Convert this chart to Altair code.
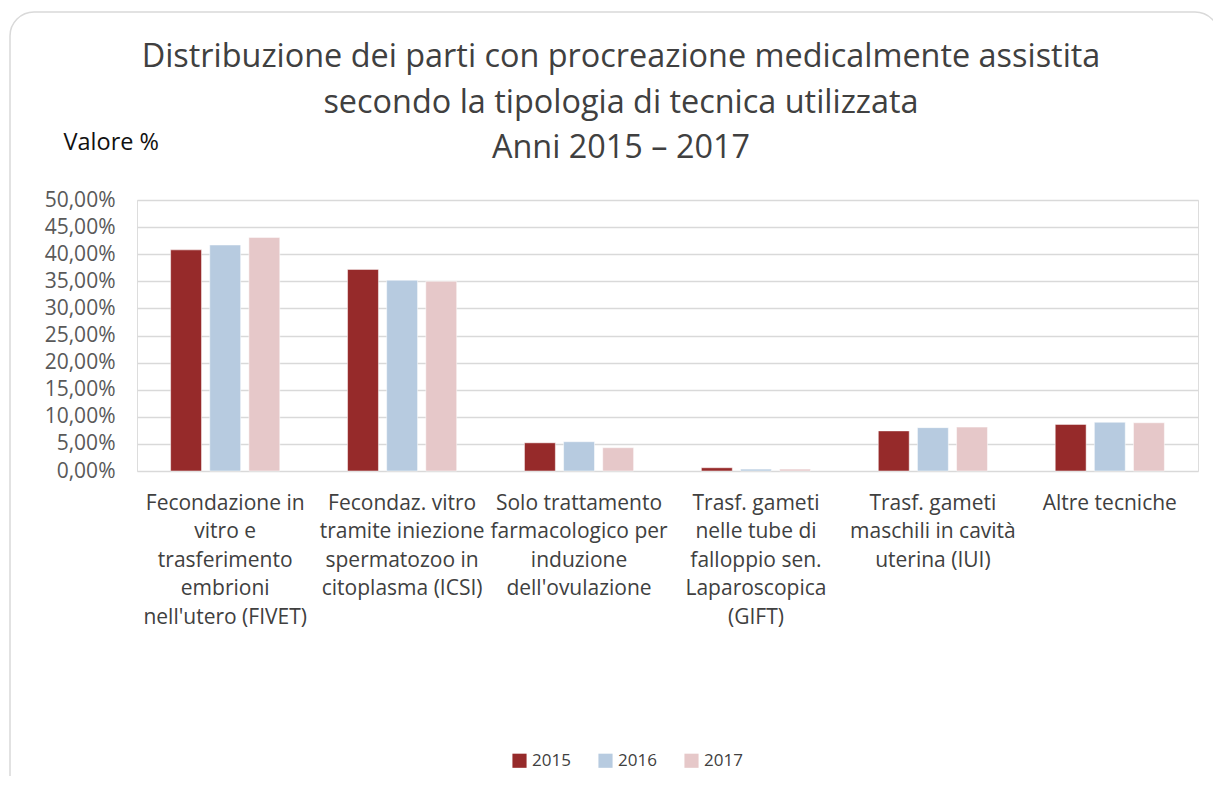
import altair as alt
import pandas as pd

categories = [
    "Fecondazione in\nvitro e\ntrasferimento\nembrioni\nnell'utero (FIVET)",
    "Fecondaz. vitro\ntramite iniezione\nspermatozoo in\ncitoplasma (ICSI)",
    "Solo trattamento\nfarmacologico per\ninduzione\ndell'ovulazione",
    "Trasf. gameti\nnelle tube di\nfalloppio sen.\nLaparoscopica\n(GIFT)",
    "Trasf. gameti\nmaschili in cavità\nuterina (IUI)",
    "Altre tecniche",
]
years = ["2015", "2016", "2017"]
v2015 = [0.408, 0.372, 0.052, 0.006, 0.074, 0.086]
v2016 = [0.417, 0.352, 0.054, 0.0035, 0.080, 0.090]
v2017 = [0.431, 0.350, 0.043, 0.0035, 0.081, 0.089]
colors = ["#962a2a", "#b7cbe0", "#e6c8c9"]
title_text = ("Distribuzione dei parti con procreazione medicalmente assistita\n"
              "secondo la tipologia di tecnica utilizzata\n"
              "Anni 2015 – 2017")

rows = []
for yr, vals in zip(years, [v2015, v2016, v2017]):
    for c, v in zip(categories, vals):
        rows.append({"cat": c, "anno": yr, "val": v})
df = pd.DataFrame(rows)

FONT = "Open Sans"

bars = alt.Chart(df).mark_bar(stroke="white", strokeWidth=0.5).encode(
    x=alt.X("cat:N", sort=categories, title=None,
            scale=alt.Scale(paddingInner=0.383, paddingOuter=0.19),
            axis=alt.Axis(labelAngle=0, labelExpr="split(datum.label, '\\n')",
                          labelFontSize=21, labelColor="#404040", labelFont=FONT,
                          labelLineHeight=28.5, labelPadding=21, ticks=False,
                          domain=False, labelLimit=300)),
    xOffset=alt.XOffset("anno:N", sort=years,
                        scale=alt.Scale(paddingInner=0.21, paddingOuter=0)),
    y=alt.Y("val:Q", scale=alt.Scale(domain=[0, 0.5], nice=False),
            axis=alt.Axis(values=[i * 0.05 for i in range(11)],
                          labelExpr="replace(format(datum.value*100, '.2f'), '.', ',') + '%'",
                          labelFontSize=21, labelColor="#595959", labelFont=FONT,
                          labelPadding=22, ticks=False, domain=False,
                          grid=True, gridColor="#d9d9d9", gridWidth=1.5,
                          title="Valore %", titleAngle=0, titleX=-74, titleY=-58,
                          titleAlign="left", titleBaseline="middle",
                          titleFontSize=23.5, titleFontWeight="normal",
                          titleColor="#111111", titleFont=FONT)),
    color=alt.Color("anno:N", sort=years,
                    scale=alt.Scale(domain=years, range=colors),
                    legend=alt.Legend(title=None, orient="none", direction="horizontal",
                                      legendX=374, legendY=552, symbolType="square",
                                      symbolSize=200, symbolStrokeWidth=0,
                                      labelFontSize=17, labelColor="#404040",
                                      labelFont=FONT, columnPadding=26,
                                      labelOffset=4)),
)

one = pd.DataFrame({"a": [0]})

frame = alt.Chart(one).mark_rect(
    fillOpacity=0, stroke="#d9d9d9", strokeWidth=1.5, cornerRadius=24
).encode(x=alt.value(-127), x2=alt.value(1082), y=alt.value(-188), y2=alt.value(640))

title = alt.Chart(one).mark_text(
    lineBreak="\n", lineHeight=45.5, align="center", baseline="middle",
    fontSize=32.4, font=FONT, color="#404040"
).encode(x=alt.value(484), y=alt.value(-143), text=alt.value(title_text))

chart = alt.layer(frame, title, bars).properties(
    width=1061, height=271,
    autosize=alt.AutoSizeParams(type="none"),
    padding={"left": 129, "top": 192, "right": 15, "bottom": 305},
).configure_view(stroke=None).configure(background="white")

chart.save("out.html", embed_options={"renderer": "svg", "actions": False})
